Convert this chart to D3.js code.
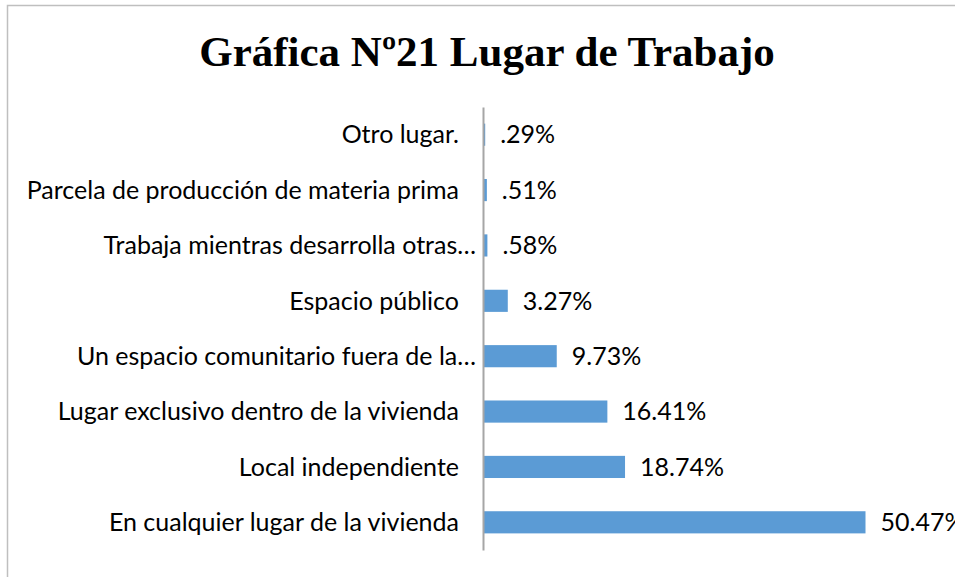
<!DOCTYPE html>
<html>
<head>
<meta charset="utf-8">
<script src="https://cdn.jsdelivr.net/npm/d3@7"></script>
<style>
  body { margin: 0; background: #fff; }
  svg { display: block; }
</style>
</head>
<body>
<svg id="chart"></svg>
<script>
// data (top to bottom)
var categories = [
    "Otro lugar.",
    "Parcela de producción de materia prima",
    "Trabaja mientras desarrolla otras…",
    "Espacio público",
    "Un espacio comunitario fuera de la…",
    "Lugar exclusivo dentro de la vivienda",
    "Local independiente",
    "En cualquier lugar de la vivienda"
];
var values = [0.29, 0.51, 0.58, 3.27, 9.73, 16.41, 18.74, 50.47];
var valueLabels = [".29%", ".51%", ".58%", "3.27%", "9.73%", "16.41%", "18.74%", "50.47%"];
var title = "Gráfica Nº21 Lugar de Trabajo";

var WIDTH = 955,
    HEIGHT = 577,
    MARGINS = { top: 107, right: 90, bottom: 27, left: 483 };

var svg = d3.select("#chart")
    .attr("width", WIDTH)
    .attr("height", HEIGHT);

// chart frame (cut off at right and bottom)
svg.append("rect")
    .attr("x", 7.5)
    .attr("y", 5.5)
    .attr("width", WIDTH + 20)
    .attr("height", HEIGHT + 20)
    .attr("fill", "none")
    .attr("stroke", "#bfbfbf")
    .attr("stroke-width", 1.5);

svg.append("text")
    .attr("x", 487)
    .attr("y", 66)
    .attr("text-anchor", "middle")
    .style("font-family", "'Liberation Serif', 'Times New Roman', serif")
    .style("font-weight", "bold")
    .style("font-size", "43px")
    .attr("fill", "#000")
    .text(title);

var xScale = d3.scaleLinear()
    .domain([0, 50.47])
    .range([MARGINS.left, 865.5]);

var yScale = d3.scaleBand()
    .domain(categories)
    .range([MARGINS.top, HEIGHT - MARGINS.bottom])
    .paddingInner(0.6)
    .paddingOuter(0.3);

var rows = categories.map(function (c, i) {
    return { cat: c, value: values[i], label: valueLabels[i] };
});

svg.selectAll("rect.bar")
    .data(rows)
    .enter().append("rect")
    .attr("class", "bar")
    .attr("x", xScale(0))
    .attr("y", function (d) { return yScale(d.cat); })
    .attr("width", function (d) { return xScale(d.value) - xScale(0); })
    .attr("height", yScale.bandwidth())
    .attr("fill", "#5b9bd5");

var yAxis = d3.axisLeft(yScale)
    .tickSize(0)
    .tickPadding(0);

var gy = svg.append("g")
    .attr("transform", "translate(" + MARGINS.left + ",0)")
    .call(yAxis);

gy.select(".domain")
    .attr("stroke", "#a6a6a6")
    .attr("stroke-width", 2);

gy.selectAll(".tick text")
    .attr("x", function (d) { return d.slice(-1) === "…" ? -7 : -24; })
    .attr("dy", "0.35em")
    .style("font-family", "Lato, 'Open Sans', sans-serif")
    .style("font-size", "25px")
    .attr("fill", "#000");

svg.selectAll("text.val")
    .data(rows)
    .enter().append("text")
    .attr("class", "val")
    .attr("x", function (d) { return xScale(d.value) + 15; })
    .attr("y", function (d) { return yScale(d.cat) + yScale.bandwidth() / 2; })
    .attr("dy", "0.35em")
    .style("font-family", "Lato, 'Open Sans', sans-serif")
    .style("font-size", "25px")
    .attr("fill", "#000")
    .text(function (d) { return d.label; });
</script>
</body>
</html>
